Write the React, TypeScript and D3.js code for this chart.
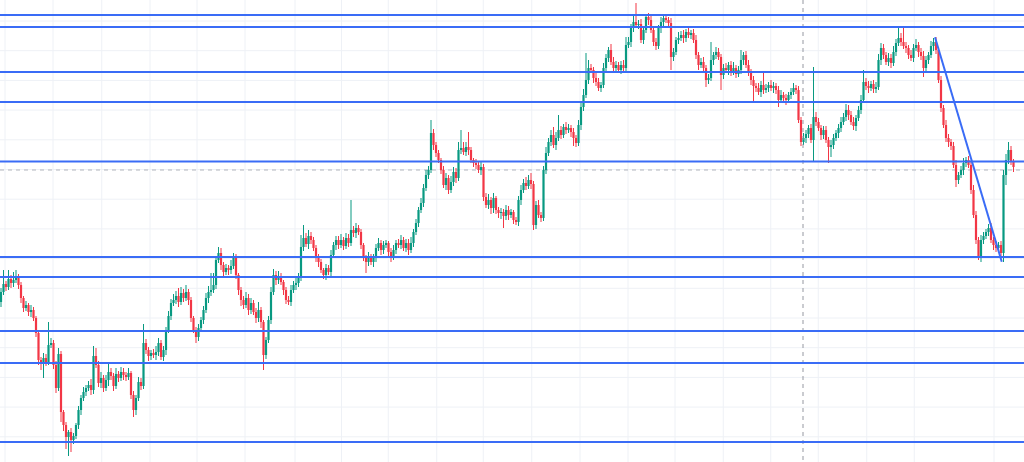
import React from 'react';
import * as d3 from 'd3';

const W = 1024;
const H = 462;

const firstOpen = 198;

const closes = [
  208,216,213,221,217,220,223,215,202,192,
  195,188,190,182,167,140,136,142,138,155,
  157,135,112,146,88,75,63,68,60,64,
  75,90,102,108,112,115,110,144,135,117,
  122,112,120,128,124,114,126,122,128,125,
  123,127,105,90,102,118,114,157,150,144,
  147,145,148,157,143,150,170,184,197,200,
  204,198,207,202,208,200,182,170,163,172,
  180,190,202,208,210,215,240,247,235,228,
  232,230,234,243,225,210,200,195,202,190,
  197,188,182,190,178,145,160,180,208,225,
  220,224,218,210,200,198,210,215,217,222,
  253,262,256,264,260,252,242,238,230,225,
  232,228,245,255,260,255,260,254,262,257,
  270,267,272,268,255,242,238,243,238,242,
  252,257,250,255,257,248,243,250,257,255,
  260,252,257,250,257,268,277,290,297,312,
  325,330,367,355,347,340,330,315,322,310,
  318,328,322,350,352,348,353,350,340,337,
  335,330,333,303,295,300,292,302,290,287,
  288,284,290,285,288,280,278,300,310,317,
  314,320,316,275,295,285,282,330,347,358,
  365,355,362,370,365,373,370,372,368,362,
  357,375,393,405,420,432,430,422,418,412,
  415,432,442,450,438,432,435,430,435,432,
  455,458,472,478,475,476,460,470,483,480,
  470,458,454,472,478,482,480,477,443,448,
  460,462,465,462,468,465,467,460,445,435,
  438,432,420,422,440,445,448,443,425,432,
  430,435,428,432,426,430,440,445,435,428,
  420,414,412,408,415,410,412,415,412,414,
  410,400,405,402,400,405,408,412,410,380,
  358,362,366,372,360,383,378,372,365,370,
  360,353,355,362,367,372,378,383,390,385,
  378,374,382,390,400,418,414,412,416,411,
  413,440,452,445,438,442,437,448,457,462,
  458,454,452,445,442,452,455,448,444,432,
  440,445,454,458,450,420,392,375,362,358,
  354,335,320,325,330,337,340,335,310,285,
  260,243,260,264,268,272,260,255,252,255,
  247,325,340,350,338,333,
];

const upperWicks = [
  4,14,3,9,4,8,7,3,3,2,
  4,2,5,3,2,3,3,5,4,23,
  5,3,4,6,3,2,3,2,4,3,
  2,4,3,5,3,4,6,10,8,4,
  6,3,5,8,4,3,6,3,5,4,
  3,5,2,4,3,5,4,19,4,3,
  3,4,6,5,3,4,3,5,4,6,
  5,8,6,4,7,3,3,2,3,4,
  3,4,5,6,17,12,4,6,5,3,
  4,3,6,4,3,2,3,4,6,4,
  5,3,4,8,3,2,3,4,5,6,
  4,5,3,2,3,4,5,4,6,5,
  12,13,5,6,4,3,3,4,3,2,
  4,3,5,3,4,4,6,3,5,4,
  30,4,5,3,3,2,3,5,3,4,
  4,5,3,4,3,2,4,5,3,4,
  5,3,4,4,6,3,4,3,5,4,
  5,4,13,4,3,3,2,4,5,3,
  6,5,4,8,18,6,5,15,3,2,
  4,3,5,3,4,6,3,5,2,3,
  4,3,5,4,3,2,3,4,5,4,
  6,5,7,3,4,5,3,4,6,4,
  5,8,6,15,4,3,5,4,3,4,
  3,5,4,6,27,8,4,3,5,4,
  3,5,4,3,6,5,4,3,4,5,
  8,5,4,6,19,4,5,3,3,4,
  5,3,4,3,5,3,4,3,5,4,
  3,6,4,5,3,4,3,4,5,3,
  4,5,3,4,18,3,5,4,3,4,
  5,3,4,6,3,4,10,3,4,5,
  3,4,3,5,4,13,4,3,5,4,
  3,4,5,3,4,3,4,5,3,4,
  3,5,4,3,4,50,5,4,3,4,
  4,3,5,4,3,4,5,4,6,5,
  4,5,3,4,5,12,4,5,3,4,
  5,6,5,4,3,5,4,6,4,11,
  5,14,4,3,5,4,6,3,4,5,
  4,3,5,4,5,3,4,3,5,4,
  3,4,5,3,4,5,3,4,3,5,
  4,3,5,4,3,4,5,3,4,3,
  4,5,6,8,4,3,
];

const lowerWicks = [
  5,3,4,3,5,4,3,4,5,4,
  3,4,5,3,4,5,6,14,4,3,
  3,4,5,3,10,6,12,19,12,4,
  3,4,5,3,4,3,5,4,3,4,
  5,4,3,6,4,5,3,4,3,5,
  4,3,4,7,5,3,4,3,4,5,
  4,3,5,4,3,4,5,3,4,3,
  4,5,3,4,3,5,4,3,6,4,
  3,4,3,5,4,3,4,3,5,4,
  3,5,4,3,4,5,6,4,3,5,
  4,3,5,4,6,15,4,3,4,3,
  5,4,3,5,4,3,4,3,5,4,
  3,4,3,5,4,3,4,5,3,4,
  5,3,4,3,5,4,3,4,3,4,
  3,4,5,3,4,3,11,4,3,5,
  4,3,5,4,3,4,5,3,4,3,
  4,3,4,5,3,4,3,4,3,4,
  3,4,3,5,4,3,4,3,5,4,
  3,4,5,3,4,3,4,5,3,4,
  4,3,5,4,3,4,6,5,4,5,
  6,12,4,5,3,4,3,4,5,3,
  4,3,5,5,4,3,4,3,4,3,
  4,3,5,3,4,3,4,3,5,8,
  4,3,5,4,3,4,3,5,4,3,
  4,3,5,4,3,5,4,3,4,3,
  4,3,5,4,3,4,3,4,3,5,
  3,4,4,3,5,4,3,4,13,4,
  3,4,3,5,4,3,4,3,4,5,
  3,4,7,4,3,5,4,3,15,4,
  3,5,4,3,4,3,4,5,3,4,
  5,16,4,3,5,4,3,4,3,5,
  4,7,3,4,5,3,4,3,4,3,
  4,3,5,4,3,22,4,3,5,4,
  3,16,10,4,3,5,4,3,4,5,
  3,4,5,3,4,3,4,5,3,4,
  4,3,5,4,3,4,5,3,4,3,
  4,3,5,4,3,4,3,5,4,9,
  3,4,3,5,4,3,4,3,4,5,
  4,3,7,4,3,5,4,3,4,3,
  4,3,5,4,3,4,3,5,4,3,
  4,9,10,4,3,5,
];

const levelPrices = [485, 473, 428, 398, 338.5, 243, 223, 169, 137, 58];
const gridPrices = [479, 449.3, 419.6, 389.9, 360.2, 330.5, 300.8, 271.1, 241.4, 211.7, 182, 152.3, 122.6, 92.9, 63.2];
const gridIndices = [1.6, 20.8, 40.3, 59.6, 78.4, 97.6, 117.6, 136.2, 154.9, 174.3, 192.9, 212.3, 231.6, 250.8, 269.6, 288.9, 307.9, 326.9, 346.3, 365.3, 397.2];
const lastPrice = 330;
const crosshairIndex = 320.8;
const trendIndices = [373.6, 400.3];
const trendPrices = [462.7, 238.3];

const UP = '#089981';
const DOWN = '#f23645';
const BLUE = '#3a6cf6';

export default function App() {
  const n = closes.length;
  const x = d3.scaleLinear().domain([0, n - 1]).range([1, 1013.5]);
  const y = d3.scaleLinear().domain([38, 500]).range([H, 0]);

  const candles = closes.map((c, i) => {
    const o = i === 0 ? firstOpen : closes[i - 1];
    const hi = Math.max(o, c) + upperWicks[i];
    const lo = Math.min(o, c) - lowerWicks[i];
    return { i, o, c, hi, lo };
  });

  const bw = 2.2;
  const trendLine = d3.line<number>()
    .x((_, k) => x(trendIndices[k]))
    .y((p) => y(p));

  return (
    <svg width={W} height={H} style={{ position: 'absolute', left: 0, top: 0, display: 'block', background: '#fff' }}>
      <g>
        {gridPrices.map((p, k) => (
          <line key={'gh' + k} x1={0} x2={W} y1={y(p)} y2={y(p)} stroke="#eef1f6" strokeWidth={1} />
        ))}
        {gridIndices.map((v, k) => (
          <line key={'gv' + k} x1={x(v)} x2={x(v)} y1={0} y2={H} stroke="#eef1f6" strokeWidth={1} />
        ))}
      </g>
      <line x1={0} x2={W} y1={y(lastPrice)} y2={y(lastPrice)} stroke="#b2b5be" strokeWidth={1} strokeDasharray="4 4" />
      <g>
        {candles.map((d) => {
          const col = d.c >= d.o ? UP : DOWN;
          const top = y(Math.max(d.o, d.c));
          const bot = y(Math.min(d.o, d.c));
          const cx = x(d.i);
          return (
            <g key={d.i}>
              <line x1={cx} x2={cx} y1={y(d.hi)} y2={y(d.lo)} stroke={col} strokeWidth={1} />
              <rect x={cx - bw / 2} y={top} width={bw} height={Math.max(1, bot - top)} fill={col} />
            </g>
          );
        })}
      </g>
      <line x1={x(crosshairIndex)} x2={x(crosshairIndex)} y1={0} y2={H} stroke="#9598a1" strokeWidth={1} strokeDasharray="4 4" />
      <g>
        {levelPrices.map((p, k) => (
          <line key={'lv' + k} x1={0} x2={W} y1={y(p)} y2={y(p)} stroke={BLUE} strokeWidth={2} />
        ))}
      </g>
      <path d={trendLine(trendPrices) || ''} fill="none" stroke={BLUE} strokeWidth={2} />
    </svg>
  );
}
